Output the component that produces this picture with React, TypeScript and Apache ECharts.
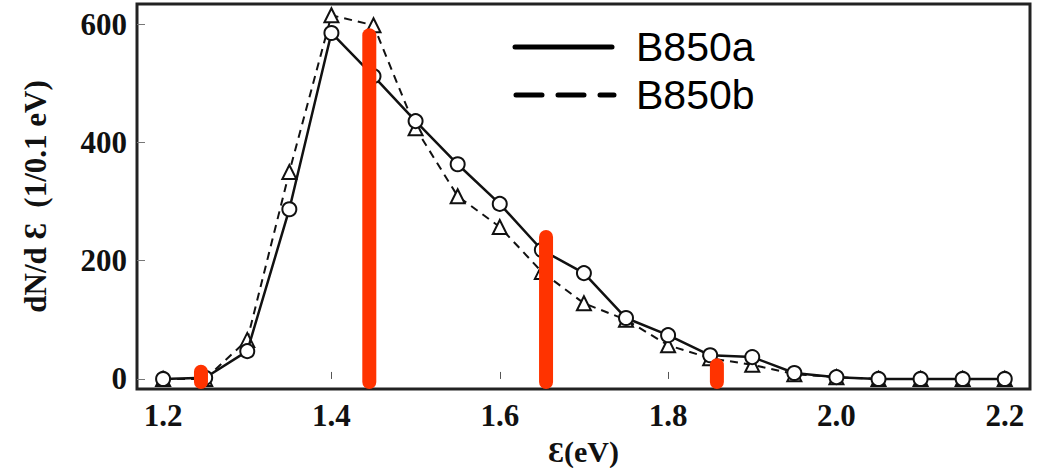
import React, { useEffect, useRef } from "react";
import * as echarts from "echarts";

const energies = [1.2, 1.25, 1.3, 1.35, 1.4, 1.45, 1.5, 1.55, 1.6, 1.65, 1.7, 1.75, 1.8, 1.85, 1.9, 1.95, 2.0, 2.05, 2.1, 2.15, 2.2];
const b850a = [0, 2, 47, 287, 585, 512, 436, 363, 296, 218, 179, 103, 74, 40, 37, 10, 3, 0, 0, 0, 0];
const b850b = [0, 0, 66, 350, 615, 598, 424, 309, 257, 181, 128, 100, 57, 35, 24, 8, 3, 0, 0, 0, 0];
const redX = [1.245, 1.445, 1.655, 1.858];
const redTop = [24, 593, 252, 35];
const xTicks = [1.2, 1.4, 1.6, 1.8, 2.0, 2.2];
const yTicks = [0, 200, 400, 600];
const legendNames = ["B850a", "B850b"];

const Y_MIN = -17;
const Y_MAX = 634;

export default function App() {
  const ref = useRef<HTMLDivElement>(null);
  useEffect(() => {
    if (!ref.current) return;
    const chart = echarts.init(ref.current, null, { renderer: "svg" });
    const serif = "'Liberation Serif', 'Times New Roman', serif";
    const option: any = {
      animation: false,
      backgroundColor: "#ffffff",
      grid: {
        left: 137, right: 12, top: 4, bottom: 79,
        outerBoundsMode: "none", containLabel: false,
        show: true, borderColor: "#222", borderWidth: 3, backgroundColor: "transparent",
      },
      xAxis: {
        type: "value", min: 1.169, max: 2.23,
        name: "Ɛ(eV)", nameLocation: "middle", nameGap: 37,
        nameTextStyle: { fontFamily: serif, fontWeight: "bold", fontSize: 30, lineHeight: 32, color: "#111" },
        axisLine: { show: false },
        splitLine: { show: false },
        axisTick: { show: true, inside: true, length: 7, customValues: xTicks, lineStyle: { color: "#555", width: 1 } },
        axisLabel: {
          customValues: xTicks, margin: 11,
          formatter: (v: number) => v.toFixed(1),
          fontFamily: serif, fontWeight: "bold", fontSize: 31, color: "#111",
        },
      },
      yAxis: {
        type: "value", min: Y_MIN, max: Y_MAX,
        name: "dN/d Ɛ  (1/0.1 eV)", nameLocation: "middle", nameGap: 86,
        nameTextStyle: { fontFamily: serif, fontWeight: "bold", fontSize: 31, color: "#111" },
        axisLine: { show: false },
        splitLine: { show: false },
        axisTick: { show: true, inside: true, length: 8, customValues: yTicks, lineStyle: { color: "#777", width: 1 } },
        axisLabel: {
          customValues: yTicks, margin: 10,
          fontFamily: serif, fontWeight: "bold", fontSize: 31, color: "#111",
        },
      },
      graphic: [
        { type: "line", shape: { x1: 515, y1: 47, x2: 612, y2: 47 }, style: { stroke: "#000", lineWidth: 5, lineCap: "round" } },
        { type: "text", x: 636, y: 47, style: { text: legendNames[0], font: "41px 'Liberation Sans', Arial, sans-serif", fill: "#000", verticalAlign: "middle" } },
        { type: "line", shape: { x1: 516, y1: 95, x2: 614, y2: 95 }, style: { stroke: "#000", lineWidth: 5, lineCap: "round", lineDash: [26, 16] } },
        { type: "text", x: 636, y: 95, style: { text: legendNames[1], font: "41px 'Liberation Sans', Arial, sans-serif", fill: "#000", verticalAlign: "middle" } },
      ],
      series: [
        {
          name: legendNames[1], type: "line",
          data: energies.map((e, i) => [e, b850b[i]]),
          symbol: "triangle", symbolSize: 14,
          lineStyle: { color: "#111", width: 2, type: [8, 6] },
          itemStyle: { color: "#fff", borderColor: "#111", borderWidth: 2 },
          z: 2,
        },
        {
          name: legendNames[0], type: "line",
          data: energies.map((e, i) => [e, b850a[i]]),
          symbol: "circle", symbolSize: 14,
          lineStyle: { color: "#111", width: 2.5 },
          itemStyle: { color: "#fff", borderColor: "#111", borderWidth: 2 },
          z: 3,
        },
        {
          type: "custom",
          data: redX.map((x, i) => [x, redTop[i]]),
          renderItem: (params: any, api: any) => {
            const top = api.coord([api.value(0), api.value(1)]);
            const bot = api.coord([api.value(0), Y_MIN]);
            const w = 14;
            return {
              type: "rect",
              shape: { x: top[0] - w / 2, y: top[1], width: w, height: bot[1] - top[1], r: w / 2 },
              style: { fill: "#ff3300" },
            };
          },
          z: 5,
        },
      ],
    };
    chart.setOption(option);
    return () => chart.dispose();
  }, []);
  return <div ref={ref} style={{ position: "absolute", left: 0, top: 0, width: 1042, height: 468 }} />;
}
